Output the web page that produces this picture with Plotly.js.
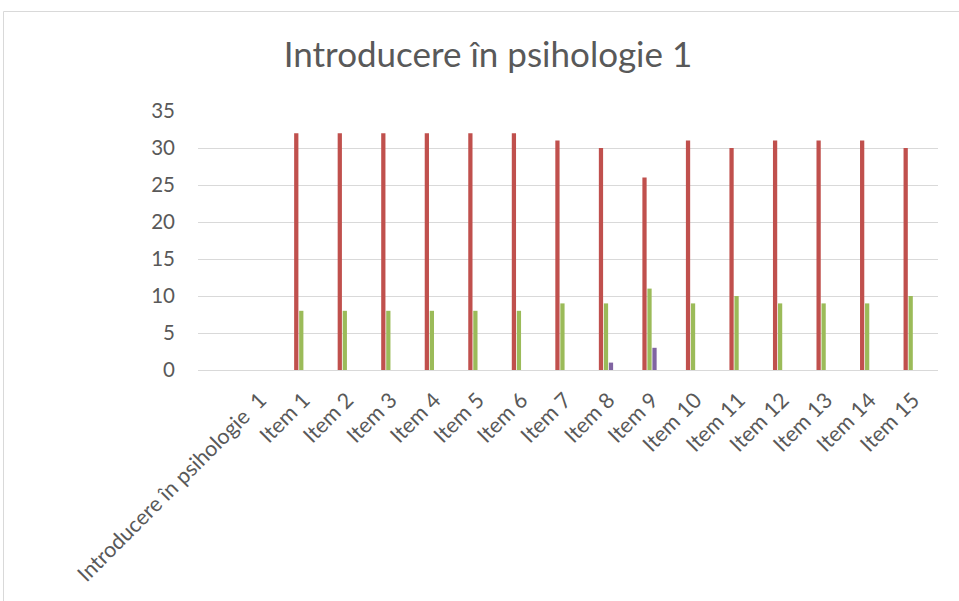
<!DOCTYPE html>
<html>
<head>
<meta charset="utf-8">
<script src="https://cdn.plot.ly/plotly-3.0.1.min.js"></script>
<style>html,body{margin:0;padding:0;background:#fff;}#chart{width:959px;height:601px;}</style>
</head>
<body>
<div id="chart"></div>
<script>
const categories = ["", "Introducere în psihologie  1", "Item 1", "Item 2", "Item 3", "Item 4", "Item 5", "Item 6", "Item 7", "Item 8", "Item 9", "Item 10", "Item 11", "Item 12", "Item 13", "Item 14", "Item 15"];
const seriesBlue   = [null, null, 0, 0, 0, 0, 0, 0, 0, 0, 0, 0, 0, 0, 0, 0, 0];
const seriesRed    = [null, null, 32, 32, 32, 32, 32, 32, 31, 30, 26, 31, 30, 31, 31, 31, 30];
const seriesGreen  = [null, null, 8, 8, 8, 8, 8, 8, 9, 9, 11, 9, 10, 9, 9, 9, 10];
const seriesPurple = [null, null, 0, 0, 0, 0, 0, 0, 0, 1, 3, 0, 0, 0, 0, 0, 0];
const seriesAqua   = [null, null, 0, 0, 0, 0, 0, 0, 0, 0, 0, 0, 0, 0, 0, 0, 0];
const seriesOrange = [null, null, 0, 0, 0, 0, 0, 0, 0, 0, 0, 0, 0, 0, 0, 0, 0];
const yTicks = [0, 5, 10, 15, 20, 25, 30, 35];

const xs = categories.map((c, i) => i);
const mk = (vals, color, name) => ({type: 'bar', x: xs, y: vals, name: name, marker: {color: color}, hoverinfo: 'y'});
const data = [
  mk(seriesBlue, '#4F81BD', 'S1'),
  mk(seriesRed, '#C0504D', 'S2'),
  mk(seriesGreen, '#9BBB59', 'S3'),
  mk(seriesPurple, '#8064A2', 'S4'),
  mk(seriesAqua, '#4BACC6', 'S5'),
  mk(seriesOrange, '#F79646', 'S6')
];

const L = 198, R = 938, T = 111, B = 370;
const W = 959, H = 601;
const pw = R - L, ph = B - T;
const px = v => (v - L) / pw;
const py = v => (B - v) / ph;
const FONT = 'Lato, "Open Sans", sans-serif';

const layout = {
  width: W, height: H,
  margin: {l: L, r: W - R, t: T, b: H - B, pad: 0},
  paper_bgcolor: '#fff', plot_bgcolor: '#fff',
  font: {family: FONT, color: '#595959', size: 20},
  showlegend: false,
  barmode: 'group',
  bargap: 0.31,
  bargroupgap: 0.15,
  title: {text: 'Introducere în psihologie 1', font: {size: 35, color: '#595959', family: FONT}, x: 488 / W, xanchor: 'center', y: 1 - 55 / H, yanchor: 'middle', xref: 'container', yref: 'container'},
  xaxis: {
    range: [-0.43, categories.length - 0.43],
    tickvals: xs, ticktext: categories,
    tickangle: -45,
    showgrid: false, zeroline: false,
    showline: true, linecolor: '#d9d9d9', linewidth: 1,
    ticks: '', ticklabelstandoff: 8,
    tickfont: {size: 21.5, color: '#595959', family: FONT}
  },
  yaxis: {
    range: [0, 35],
    tickvals: yTicks,
    showgrid: true, gridcolor: '#d9d9d9', gridwidth: 1,
    zeroline: true, zerolinecolor: '#d9d9d9', zerolinewidth: 1,
    showline: false, ticks: '',
    ticklabelstandoff: 22,
    tickfont: {size: 20.5, color: '#595959', family: FONT}
  },
  shapes: [{
    type: 'rect', xref: 'paper', yref: 'paper', layer: 'below',
    x0: px(3.5), x1: px(1000), y0: py(700), y1: py(11.5),
    line: {color: '#d9d9d9', width: 1}, fillcolor: 'rgba(0,0,0,0)'
  }]
};

Plotly.newPlot('chart', data, layout, {staticPlot: true, displayModeBar: false});
</script>
</body>
</html>
